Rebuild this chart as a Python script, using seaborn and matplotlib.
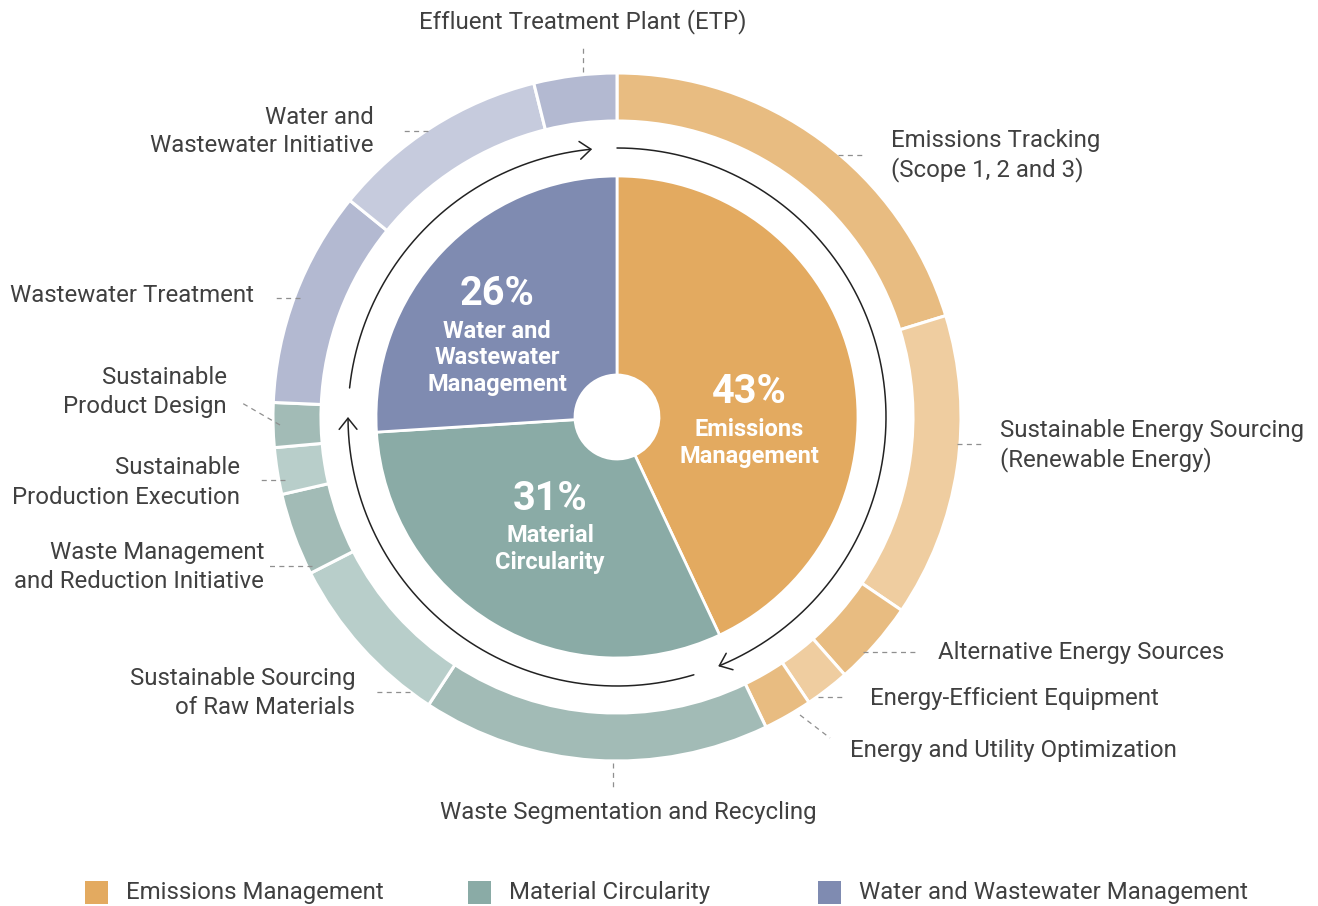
import numpy as np
import matplotlib
matplotlib.use("Agg")
import matplotlib.pyplot as plt
import seaborn as sns
from matplotlib.patches import FancyArrowPatch, Rectangle
from matplotlib.path import Path

W, H = 1318, 906

# --- data -------------------------------------------------------------
categories = ["Emissions Management", "Material Circularity",
              "Water and Wastewater Management"]
category_share = [43, 31, 26]
category_text = ["Emissions\nManagement", "Material\nCircularity",
                 "Water and\nWastewater\nManagement"]

initiatives = [
    "Emissions Tracking\n(Scope 1, 2 and 3)",
    "Sustainable Energy Sourcing\n(Renewable Energy)",
    "Alternative Energy Sources",
    "Energy-Efficient Equipment",
    "Energy and Utility Optimization",
    "Waste Segmentation and Recycling",
    "Sustainable Sourcing\nof Raw Materials",
    "Waste Management\nand Reduction Initiative",
    "Sustainable\nProduction Execution",
    "Sustainable\nProduct Design",
    "Wastewater Treatment",
    "Water and\nWastewater Initiative",
    "Effluent Treatment Plant (ETP)",
]
initiative_share = [20.3, 14.3, 4.0, 2.1, 2.3,
                    16.4, 8.3, 3.9, 2.2, 2.1,
                    10.2, 10.3, 3.9]
initiative_group = [0, 0, 0, 0, 0, 1, 1, 1, 1, 1, 2, 2, 2]

# --- styling ----------------------------------------------------------
sns.set_theme(style="white")
plt.rcParams["font.family"] = ["Roboto", "DejaVu Sans"]

main_colors = sns.color_palette(["#E3AA60", "#8AABA6", "#7F8BB1"])
ring_shades = {0: ["#E8BC81", "#EFCDA0"],
               1: ["#A2BBB6", "#B8CECA"],
               2: ["#B3B9D1", "#C6CBDD"]}
ring_colors = []
counters = {0: 0, 1: 0, 2: 0}
for g in initiative_group:
    ring_colors.append(ring_shades[g][counters[g] % 2])
    counters[g] += 1

TEXT = "#404040"
LEADER = "#8f8f8f"
LABEL_SIZE = 17.3

cx, cy = 617, H - 417
R_OUT, RING_W = 344, 48
R_IN, R_HOLE = 241, 42
R_ARROW = 269

fig = plt.figure(figsize=(W / 100, H / 100), dpi=100)
ax = fig.add_axes([0, 0, 1, 1])

ax.pie(initiative_share, radius=R_OUT, center=(cx, cy), startangle=90,
       counterclock=False, colors=ring_colors,
       wedgeprops=dict(width=RING_W, edgecolor="white", linewidth=2.2))
ax.pie(category_share, radius=R_IN, center=(cx, cy), startangle=90,
       counterclock=False, colors=main_colors,
       wedgeprops=dict(width=R_IN - R_HOLE, edgecolor="white", linewidth=2.0))

ax.set_xlim(0, W)
ax.set_ylim(0, H)
ax.set_aspect("equal")
ax.axis("off")

# --- circular flow arrows (clockwise) ---------------------------------
def arc_path(r, a0, a1, n=200):
    t = np.radians(np.linspace(a0, a1, n))
    return Path(np.column_stack([cx + r * np.cos(t), cy + r * np.sin(t)]))

for a0, a1 in [(90, -67.9), (-73.4, -180), (173.8, 95.3)]:
    ax.add_patch(FancyArrowPatch(
        path=arc_path(R_ARROW, a0, a1),
        arrowstyle="->,head_length=0.5,head_width=0.4",
        mutation_scale=16, color="#222222", linewidth=1.1))

# --- centre labels ----------------------------------------------------
centre_pos = [(749, 392), (550, 499), (497, 294)]
for share, txt, (x, y) in zip(category_share, category_text, centre_pos):
    ax.text(x, H - y, f"{share}%", ha="center", va="center", color="white",
            fontsize=28.5, fontweight="bold")
    for i, line in enumerate(txt.split("\n")):
        ax.text(x, H - (y + 37 + 27 * i), line, ha="center", va="center",
                color="white", fontsize=17, fontweight="bold")

# --- outer labels with dashed leaders ---------------------------------
# (text x, text y of first line, alignment, leader start, leader end)
label_layout = [
    (891, 141, "left", (838, 155), (866, 155)),
    (1000, 431, "left", (957, 444), (985, 444)),
    (938, 653, "left", (863, 652), (918, 652)),
    (870, 699, "left", (818, 697), (846, 697)),
    (850, 750, "left", (800, 715), (830, 738)),
    (628, 813, "center", (613, 763), (613, 790)),
    (355, 678, "right", (410, 692), (375, 692)),
    (264, 553, "right", (312, 566), (266, 566)),
    (240, 468, "right", (285, 480), (257, 480)),
    (227, 378, "right", (280, 425), (242, 403)),
    (254, 295, "right", (300, 298), (272, 298)),
    (374, 117, "right", (428, 131), (400, 131)),
    (583, 22, "center", (583, 72), (583, 45)),
]
for name, (tx, ty, ha, p0, p1) in zip(initiatives, label_layout):
    for i, line in enumerate(name.split("\n")):
        ax.text(tx, H - (ty + 29 * i), line, ha=ha, va="center",
                color=TEXT, fontsize=LABEL_SIZE, fontweight="normal")
    ax.plot([p0[0], p1[0]], [H - p0[1], H - p1[1]], color=LEADER,
            linewidth=0.9, linestyle=(0, (4, 3.5)))

# --- legend -----------------------------------------------------------
legend_x = [85, 468, 818]
for name, color, x in zip(categories, main_colors, legend_x):
    ax.add_patch(Rectangle((x, H - 904), 23, 23, facecolor=color,
                           edgecolor="none"))
    ax.text(x + 41, H - 893, name, ha="left", va="center", color=TEXT,
            fontsize=LABEL_SIZE, fontweight="normal")

fig.savefig("out.png", dpi=100, facecolor="white")
